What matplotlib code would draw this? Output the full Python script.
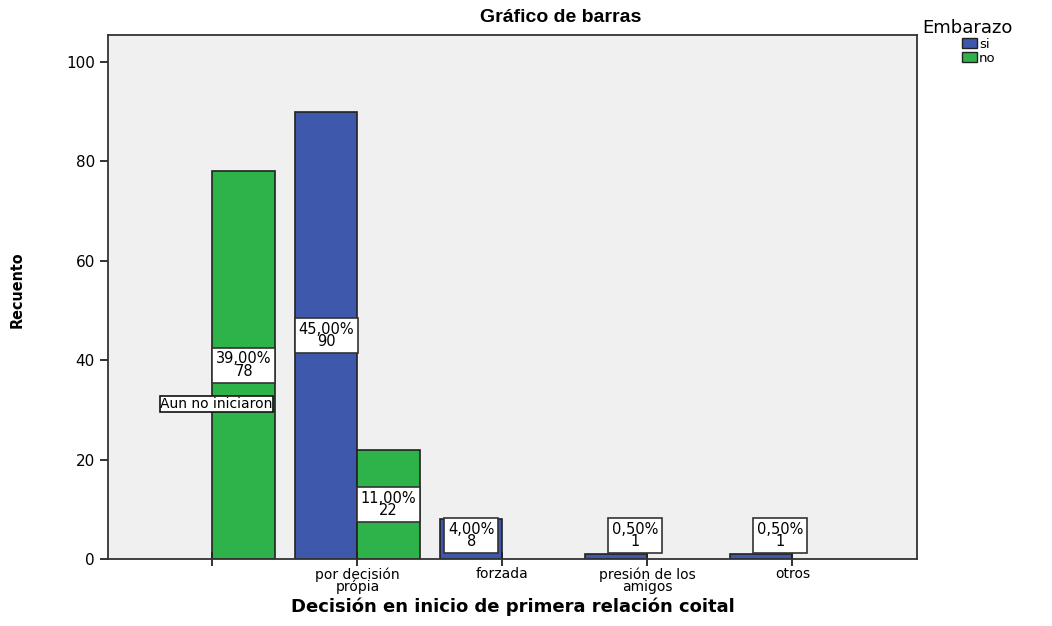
import numpy as np
import matplotlib.pyplot as plt
from matplotlib.patches import Patch

plt.rcParams['font.family'] = ['DejaVu Sans']

categories = ['', 'por decisión\nprópia', 'forzada', 'presión de los\namigos', 'otros']
si_counts = [0, 90, 8, 1, 1]
no_counts = [78, 22, 0, 0, 0]
total = 200
series_names = ['si', 'no']
colors = ['#3E58AC', '#2DB34A']

fig = plt.figure(figsize=(10.52, 6.26), dpi=100)
ax = fig.add_axes([0.1027, 0.107, 0.769, 0.837])
ax.set_facecolor('#F0F0F0')

x = np.arange(len(categories))
w = 0.43
bars_si = ax.bar(x - w / 2, si_counts, w, color=colors[0], edgecolor='#222222',
                 linewidth=[1.2 if v else 0 for v in si_counts])
bars_no = ax.bar(x + w / 2, no_counts, w, color=colors[1], edgecolor='#222222',
                 linewidth=[1.2 if v else 0 for v in no_counts])

def add_labels(bars, counts):
    for b, v in zip(bars, counts):
        if v == 0:
            continue
        cx = b.get_x() + b.get_width() / 2
        if v == 1:
            cx = b.get_x() + b.get_width() * 0.8
        y = max(v / 2, 4.7)
        ax.text(cx, y, f'{v / total * 100:.2f}%'.replace('.', ',') + f'\n{v}',
                ha='center', va='center', fontsize=10.5, linespacing=0.8,
                bbox=dict(boxstyle='square,pad=0.25', fc='white', ec='#333333', lw=1.2))

add_labels(bars_si, si_counts)
add_labels(bars_no, no_counts)

# SPSS draws the first category's name inside the plot
ax.text(-0.36, 31.2, 'Aun no iniciaron', ha='left', va='center', fontsize=10,
        bbox=dict(boxstyle='square,pad=0.05', fc='white', ec='#111111', lw=1.2))

ax.set_xlim(-0.72, 4.86)
ax.set_ylim(0, 105.4)
ax.set_yticks([0, 20, 40, 60, 80, 100])
ax.set_xticks(x)
ax.set_xticklabels(categories, fontsize=10, linespacing=0.8)
ax.tick_params(axis='both', length=6, width=1.3, color='#222222', labelsize=10.5)
ax.tick_params(axis='x', direction='inout', length=10, labelsize=10, pad=1)
ax.tick_params(axis='y', labelsize=11)
for s in ax.spines.values():
    s.set_color('#333333')
    s.set_linewidth(1.3)

fig.text(561 / 1052, 1 - 18 / 626, 'Gráfico de barras', ha='center', va='center',
         fontsize=14, fontweight='bold', family='Liberation Sans')
ax.set_xlabel('Decisión en inicio de primera relación coital', fontsize=13,
              fontweight='bold', va='center')
ax.xaxis.set_label_coords(0.5, (559 - 607) / 524)
ax.set_ylabel('Recuento', fontsize=11.5, fontweight='bold', fontstretch='condensed', va='center')
ax.yaxis.set_label_coords((17 - 108) / 809, (559 - 290) / 524)

fig.text(922 / 1052, 1 - 28 / 626, 'Embarazo', ha='left', va='center', fontsize=13)
handles = [Patch(fc=c, ec='#222222', lw=1) for c in colors]
fig.legend(handles, series_names, loc='upper left',
           bbox_to_anchor=(962 / 1052, 1 - 38 / 626), frameon=False, fontsize=9.5,
           handlelength=1.1, handleheight=0.8, handletextpad=0.2,
           labelspacing=0.05, borderpad=0, borderaxespad=0)

fig.savefig('out.png', dpi=100)
